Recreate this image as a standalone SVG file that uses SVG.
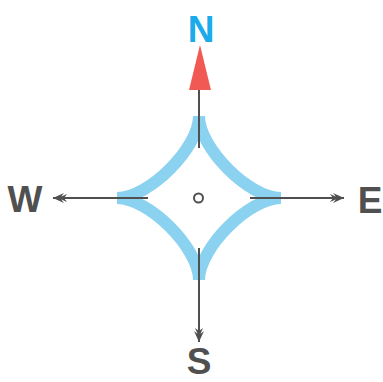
<svg xmlns="http://www.w3.org/2000/svg" width="383" height="382" viewBox="0 0 383 382">
<style>
.lbl{font-family:"Liberation Sans",Arial,sans-serif;font-weight:bold;font-size:37px;text-anchor:middle;fill:#505050}
.ax{stroke:#505050;stroke-width:2;fill:none}
.star{stroke:#8ad2ef;stroke-width:12;fill:none;stroke-linecap:butt}
</style>
<defs>
<marker id="ah" markerUnits="userSpaceOnUse" markerWidth="20" markerHeight="12" viewBox="-15 -6 16 12" refX="0" refY="0" orient="auto">
<path d="M0,0 L-11,-5 L-7,0 L-11,5 Z M-5,0 L-14,-4 L-11,0 L-14,4 Z" fill="#505050"/>
</marker>
</defs>
<rect width="383" height="382" fill="#ffffff"/>
<g id="star">
<path class="star" d="M281,198 C249,198 199,148 199,116"/>
<path class="star" d="M199,116 C199,148 149,198 117,198"/>
<path class="star" d="M117,198 C149,198 199,248 199,280"/>
<path class="star" d="M199,280 C199,248 249,198 281,198"/>
</g>
<g id="connectors">
<line class="ax" x1="199" y1="88" x2="199" y2="148"/>
<line class="ax" x1="199" y1="248" x2="199" y2="342" marker-end="url(#ah)"/>
<line class="ax" x1="148" y1="198" x2="53" y2="198" marker-end="url(#ah)"/>
<line class="ax" x1="250" y1="198" x2="344" y2="198" marker-end="url(#ah)"/>
</g>
<g id="center">
<circle cx="198.5" cy="198" r="4.5" fill="none" stroke="#505050" stroke-width="2"/>
</g>
<g id="north">
<polygon points="200,45 189,90 211,90" fill="#f15a54"/>
<text class="lbl" x="201" y="42" style="fill:#1aabe8">N</text>
</g>
<g id="south"><text class="lbl" x="199" y="374">S</text></g>
<g id="west"><text class="lbl" x="25" y="212">W</text></g>
<g id="east"><text class="lbl" x="370" y="213">E</text></g>
</svg>
